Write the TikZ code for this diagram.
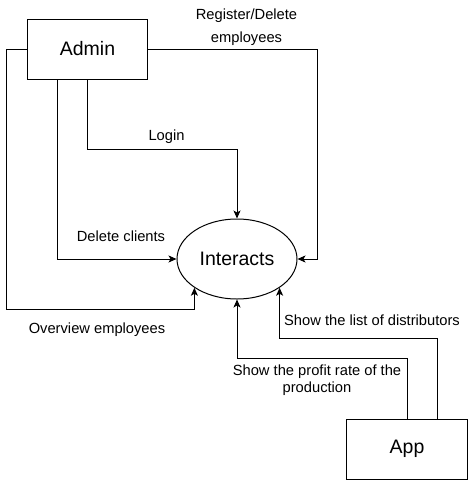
\documentclass[tikz,border=0pt]{standalone}
\usepackage{fontspec}
\setmainfont{Liberation Sans}
\usetikzlibrary{shapes.geometric, arrows.meta}

\begin{document}
\begin{tikzpicture}[x=1pt, y=-1pt, line width=1pt, font=\fontsize{14.7}{17.5}\selectfont,
  Entity/.style={draw, minimum width=120.5pt, minimum height=60pt, inner sep=0pt, font=\fontsize{19.5}{23}\selectfont},
  Process/.style={draw, ellipse, minimum width=120pt, minimum height=80pt, inner sep=0pt, font=\fontsize{19.5}{23}\selectfont},
  Label/.style={align=center, inner sep=0pt},
  Connection/.style={->, >={Stealth[length=8pt, width=7pt, inset=2pt]}}]

\useasboundingbox (0,0) rectangle (469,480);

\foreach \x/\y/\name/\txt in {87.5/49/admin/Admin, 407/449/app/App} {
  \node [Entity] (\name) at (\x,\y) {\txt};
}

\node [Process] (interacts) at (237,259) {Interacts};

\node [Label] (register) at (246.5,27.3) {Register/Delete\\[5.5pt]employees};
\node [Label] (login) at (166.5,136.7) {Login};
\node [Label] (delclients) at (121,236.7) {Delete clients};
\node [Label] (overview) at (97,330) {Overview employees};
\node [Label] (distributors) at (372,320.7) {Show the list of distributors};
\node [Label] (profit) at (317,380.3) {Show the profit rate of the\\production};

\draw [Connection] (admin.east) -- ++(169,0) |- (interacts.east);
\draw [Connection] (admin.south) -- ++(0,70) -| (interacts.north);
\draw [Connection] ([xshift=-30pt]admin.south) |- (interacts.west);
\draw [Connection] (admin.west) -- ++(-20,0) -- ++(0,260) -| (interacts.214.2);

\draw [Connection] (app.north) -- ++(0,-60) -| (interacts.south);
\draw [Connection] ([xshift=30pt]app.north) -- ++(0,-80) -| (interacts.-34.2);
\end{tikzpicture}
\end{document}
